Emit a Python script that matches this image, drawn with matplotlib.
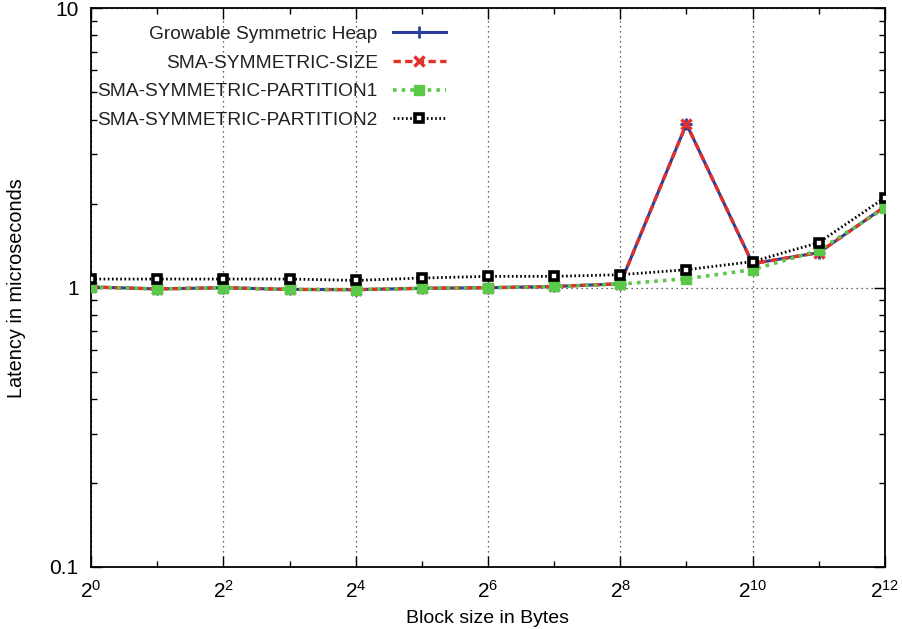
import matplotlib
matplotlib.use("Agg")
import matplotlib.pyplot as plt
from matplotlib.ticker import FixedLocator, FixedFormatter, LogLocator, NullFormatter

plt.rcParams['font.family'] = ['Liberation Sans', 'DejaVu Sans']
plt.rcParams['mathtext.fontset'] = 'custom'
plt.rcParams['mathtext.rm'] = 'Liberation Sans'
plt.rcParams['mathtext.it'] = 'Liberation Sans'

exponents = list(range(13))
block_sizes = [2 ** e for e in exponents]

growable = [1.006, 0.99, 1.0, 0.986, 0.984, 0.995, 1.0, 1.01, 1.033, 3.86, 1.22, 1.335, 1.95]
sma_size = [1.006, 0.99, 1.0, 0.986, 0.984, 0.995, 1.0, 1.01, 1.033, 3.86, 1.22, 1.335, 1.95]
sma_part1 = [1.004, 0.99, 0.998, 0.986, 0.984, 0.995, 1.0, 1.01, 1.03, 1.077, 1.16, 1.36, 1.93]
sma_part2 = [1.074, 1.074, 1.074, 1.074, 1.062, 1.083, 1.098, 1.098, 1.113, 1.16, 1.24, 1.45, 2.10]

labels = ["Growable Symmetric Heap", "SMA-SYMMETRIC-SIZE",
          "SMA-SYMMETRIC-PARTITION1", "SMA-SYMMETRIC-PARTITION2"]

x_major = [2 ** e for e in range(0, 13, 2)]
x_major_labels = [r"$2^{%d}$" % e for e in range(0, 13, 2)]
x_minor = [2 ** e for e in range(1, 13, 2)]
y_major = [0.1, 1, 10]
y_major_labels = ["0.1", "1", "10"]

fig = plt.figure(figsize=(9.02, 6.29), dpi=100)
ax = fig.add_axes([0.101, 0.0986, 0.880, 0.888])

ax.plot(block_sizes, growable, color='#2a3f9d', lw=2.2, ls='-', marker='+', ms=8, mew=2, label=labels[0], zorder=3)
ax.plot(block_sizes, sma_size, color='#e2312b', lw=2.4, ls=(0, (2.2, 1.3)), marker='x', ms=7, mew=2.5, label=labels[1], zorder=4)
ax.plot(block_sizes, sma_part1, color='#5cc84a', lw=2.6, ls=(0, (1, 1.4)), marker='s', ms=7, mew=1, mec='#5cc84a', label=labels[2], zorder=5)
ax.plot(block_sizes, sma_part2, color='black', lw=2.0, ls=(0, (0.6, 0.9)), marker='s', ms=6, mfc='white', mec='black', mew=2.6, label=labels[3], zorder=6)

ax.set_xscale('log', base=2)
ax.set_yscale('log')
ax.set_xlim(1, 4096)
ax.set_ylim(0.1, 10)

ax.xaxis.set_major_locator(FixedLocator(x_major))
ax.xaxis.set_major_formatter(FixedFormatter(x_major_labels))
ax.xaxis.set_minor_locator(FixedLocator(x_minor))
ax.xaxis.set_minor_formatter(NullFormatter())
ax.yaxis.set_major_locator(FixedLocator(y_major))
ax.yaxis.set_major_formatter(FixedFormatter(y_major_labels))
ax.yaxis.set_minor_locator(LogLocator(base=10, subs=range(2, 10)))
ax.yaxis.set_minor_formatter(NullFormatter())

ax.tick_params(which='both', direction='in', top=True, right=True, labelsize=15, width=1, colors='black')
ax.tick_params(which='major', length=8)
ax.tick_params(axis='x', which='major', pad=9)
ax.tick_params(axis='y', which='major', pad=9)
ax.tick_params(which='minor', length=4)
for s in ax.spines.values():
    s.set_linewidth(1.3)

ax.grid(True, which='major', axis='both', color='#333333', ls=(0, (1, 3)), lw=0.9)

ax.set_xlabel("Block size in Bytes", fontsize=14, labelpad=6)
ax.set_ylabel("Latency in microseconds", fontsize=14.3, labelpad=17)

leg = ax.legend(loc='upper left', bbox_to_anchor=(-0.009, 0.993), markerfirst=False, frameon=False,
                fontsize=13.8, handlelength=2.75, labelspacing=0.58, handletextpad=0.8, borderaxespad=0.3)
for t in leg.get_texts():
    t.set_color('#222222')
leg.set_zorder(10)

fig.savefig("out.png", dpi=100)
